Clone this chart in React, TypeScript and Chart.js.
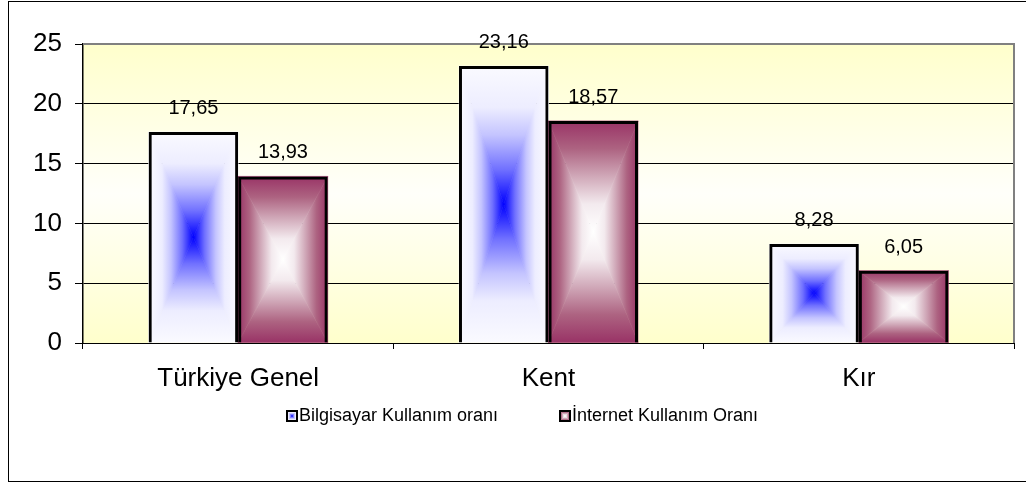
import React, { useEffect, useRef } from "react";
import { Chart, registerables } from "chart.js";

Chart.register(...registerables);

const categories = ["Türkiye Genel", "Kent", "Kır"];
const computerUse = [17.65, 23.16, 8.28];
const internetUse = [13.93, 18.57, 6.05];
const seriesNames = ["Bilgisayar Kullanım oranı", "İnternet Kullanım Oranı"];
const yTicks = [0, 5, 10, 15, 20, 25];

const FONT = '"Liberation Sans", Arial, Helvetica, sans-serif';
// gradient stops from edge (0) to center (1)
const GRADS: [number, string][][] = [
  [
    [0, "#FAFAFF"],
    [0.3, "#EDEDFF"],
    [0.5, "#C4C4FF"],
    [0.75, "#7070FF"],
    [1, "#0000FF"],
  ],
  [
    [0, "#993366"],
    [0.25, "#AD6381"],
    [0.5, "#D0A8B8"],
    [0.75, "#F3EAEE"],
    [1, "#FFFFFF"],
  ],
];

function fillRectGradient(
  ctx: CanvasRenderingContext2D,
  l: number,
  t: number,
  r: number,
  b: number,
  stops: [number, string][]
) {
  const cx = (l + r) / 2;
  const cy = (t + b) / 2;
  const tri = (pts: number[][], x0: number, y0: number, x1: number, y1: number) => {
    const g = ctx.createLinearGradient(x0, y0, x1, y1);
    stops.forEach(([o, c]) => g.addColorStop(o, c));
    ctx.beginPath();
    ctx.moveTo(pts[0][0], pts[0][1]);
    ctx.lineTo(pts[1][0], pts[1][1]);
    ctx.lineTo(pts[2][0], pts[2][1]);
    ctx.closePath();
    ctx.fillStyle = g;
    ctx.strokeStyle = g;
    ctx.lineWidth = 0.6;
    ctx.fill();
    ctx.stroke();
  };
  tri([[l, t], [r, t], [cx, cy]], cx, t, cx, cy);
  tri([[l, b], [r, b], [cx, cy]], cx, b, cx, cy);
  tri([[l, t], [l, b], [cx, cy]], l, cy, cx, cy);
  tri([[r, t], [r, b], [cx, cy]], r, cy, cx, cy);
}

const framePlugin = {
  id: "frame",
  beforeDraw(chart: any) {
    const ctx = chart.ctx as CanvasRenderingContext2D;
    const { left, top, right, bottom } = chart.chartArea;
    ctx.save();
    ctx.fillStyle = "#FFFFFF";
    ctx.fillRect(0, 0, chart.width, chart.height);
    ctx.strokeStyle = "#000000";
    ctx.lineWidth = 1;
    ctx.strokeRect(8.5, 1.5, chart.width + 10, 480);
    const g = ctx.createLinearGradient(0, top, 0, bottom);
    g.addColorStop(0, "#FFFFCC");
    g.addColorStop(0.5, "#FFFFFA");
    g.addColorStop(1, "#FFFFCC");
    ctx.fillStyle = g;
    ctx.fillRect(left, top, right - left, bottom - top);
    ctx.restore();
  },
  beforeDatasetsDraw(chart: any) {
    const ctx = chart.ctx as CanvasRenderingContext2D;
    const { left, top, right, bottom } = chart.chartArea;
    ctx.save();
    ctx.strokeStyle = "#808080";
    ctx.lineWidth = 2;
    ctx.beginPath();
    ctx.moveTo(left, top);
    ctx.lineTo(right, top);
    ctx.lineTo(right, bottom);
    ctx.stroke();
    chart.data.datasets.forEach((_ds: any, i: number) => {
      const meta = chart.getDatasetMeta(i);
      meta.data.forEach((bar: any) => {
        const p = bar.getProps(["x", "y", "base", "width"], true);
        const l = p.x - p.width / 2;
        const r = p.x + p.width / 2;
        const t = Math.min(p.y, p.base);
        const b = Math.max(p.y, p.base);
        fillRectGradient(ctx, l, t, r, b, GRADS[i]);
      });
    });
    ctx.restore();
  },
  afterDatasetsDraw(chart: any) {
    const ctx = chart.ctx as CanvasRenderingContext2D;
    ctx.save();
    ctx.fillStyle = "#000000";
    ctx.font = `20px ${FONT}`;
    ctx.textAlign = "center";
    ctx.textBaseline = "alphabetic";
    chart.data.datasets.forEach((ds: any, i: number) => {
      const meta = chart.getDatasetMeta(i);
      meta.data.forEach((bar: any, j: number) => {
        const v = ds.data[j] as number;
        const txt = v.toFixed(2).replace(".", ",");
        ctx.fillText(txt, bar.x, bar.y - 18);
      });
    });

    // legend
    ctx.font = `18px ${FONT}`;
    ctx.textAlign = "left";
    ctx.textBaseline = "middle";
    const legendY = 416;
    const items = [
      { x: 287, text: seriesNames[0], g: GRADS[0] },
      { x: 560, text: seriesNames[1], g: GRADS[1] },
    ];
    items.forEach((it) => {
      const s = 10;
      const l = it.x;
      const t = legendY - s / 2;
      fillRectGradient(ctx, l, t, l + s, t + s, it.g);
      ctx.strokeStyle = "#000000";
      ctx.lineWidth = 2;
      ctx.strokeRect(l, t, s, s);
      ctx.fillStyle = "#000000";
      ctx.fillText(it.text, l + s + 2, legendY);
    });
    ctx.restore();
  },
};

export default function App() {
  const ref = useRef<HTMLCanvasElement | null>(null);

  useEffect(() => {
    if (!ref.current) return;
    const chart = new Chart(ref.current, {
      type: "bar",
      data: {
        labels: categories,
        datasets: [
          {
            label: seriesNames[0],
            data: computerUse,
            backgroundColor: "rgba(0,0,0,0)",
            borderColor: "#000000",
            borderWidth: 3,
            barPercentage: 1,
            categoryPercentage: 0.577,
          },
          {
            label: seriesNames[1],
            data: internetUse,
            backgroundColor: "rgba(0,0,0,0)",
            borderColor: "#000000",
            borderWidth: 3,
            barPercentage: 1,
            categoryPercentage: 0.577,
          },
        ],
      },
      options: {
        responsive: false,
        animation: false,
        devicePixelRatio: 1,
        layout: { padding: { left: 0, top: 44, right: 12, bottom: 0 } },
        plugins: {
          legend: { display: false },
          tooltip: { enabled: false },
        },
        scales: {
          x: {
            afterFit: (s: any) => {
              s.height = 140;
            },
            grid: {
              offset: true,
              drawOnChartArea: false,
              tickLength: 6,
              color: "#000000",
              lineWidth: 1,
            },
            border: { color: "#000000", width: 1 },
            ticks: {
              color: "#000000",
              font: { family: FONT, size: 26 },
              padding: 14,
              maxRotation: 0,
            },
          },
          y: {
            min: 0,
            max: 25,
            afterFit: (s: any) => {
              s.width = 83;
            },
            afterBuildTicks: (s: any) => {
              s.ticks = yTicks.map((v) => ({ value: v }));
            },
            grid: {
              color: (c: any) => (c.tick && c.tick.value === 25 ? "rgba(0,0,0,0)" : "#000000"),
              tickColor: "#000000",
              tickLength: 8,
              lineWidth: 1,
            },
            border: { color: "#000000", width: 1.5 },
            ticks: {
              color: "#000000",
              font: { family: FONT, size: 26 },
              padding: 13,
            },
          },
        },
      },
      plugins: [framePlugin],
    });
    return () => chart.destroy();
  }, []);

  return (
    <div style={{ position: "absolute", left: 0, top: 0, width: 1026, height: 483 }}>
      <canvas ref={ref} width={1026} height={483} style={{ display: "block" }} />
    </div>
  );
}
